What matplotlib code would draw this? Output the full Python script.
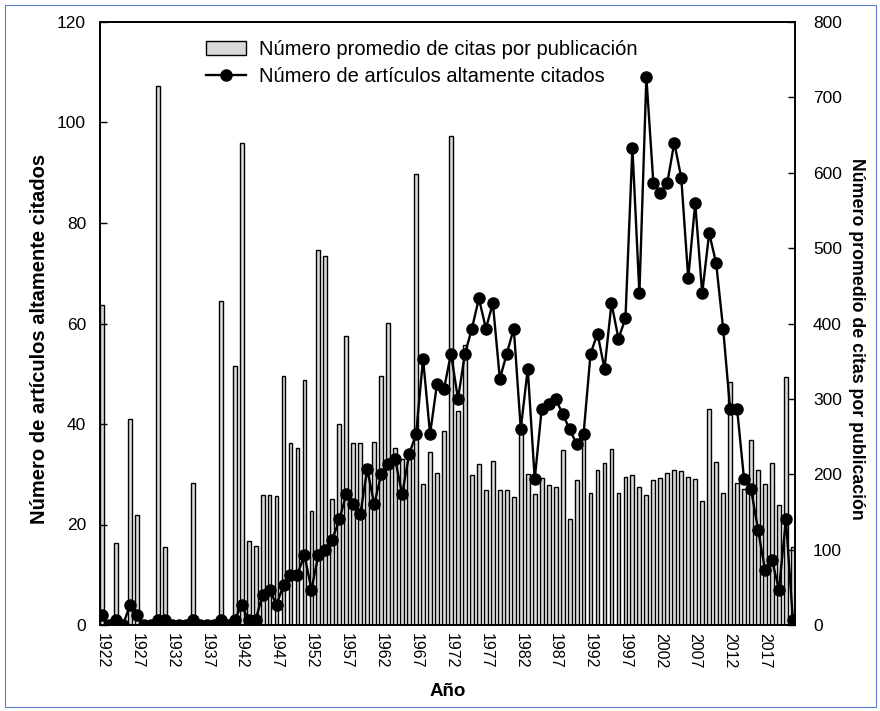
import matplotlib
matplotlib.use("Agg")
import matplotlib.pyplot as plt
from matplotlib.patches import Rectangle
from matplotlib.lines import Line2D

plt.rcParams['font.family'] = ['Liberation Sans', 'DejaVu Sans']

years = list(range(1922, 2022))

# Número promedio de citas por publicación (right axis, bars)
avg_citations = [
    424, 0, 109, 0, 273, 146, 0, 0, 715, 104,      # 1922-1931
    0, 0, 0, 189, 0, 0, 0, 430, 0, 344,            # 1932-1941
    640, 112, 105, 172, 172, 171, 331, 241, 235, 325,  # 1942-1951
    151, 497, 490, 167, 267, 384, 242, 242, 200, 243,  # 1952-1961
    331, 401, 235, 220, 222, 599, 187, 229, 201, 258,  # 1962-1971
    649, 284, 372, 199, 213, 179, 217, 179, 179, 170,  # 1972-1981
    255, 200, 174, 195, 186, 183, 232, 141, 192, 253,  # 1982-1991
    175, 206, 215, 234, 175, 196, 199, 183, 172, 192,  # 1992-2001
    195, 202, 205, 204, 196, 194, 165, 286, 216, 175,  # 2002-2011
    322, 189, 181, 245, 205, 187, 215, 159, 329, 104,  # 2012-2021
]

# Número de artículos altamente citados (left axis, line)
highly_cited = [
    2, 0, 1, 0, 4, 2, 0, 0, 1, 1,            # 1922-1931
    0, 0, 0, 1, 0, 0, 0, 1, 0, 1,            # 1932-1941
    4, 1, 1, 6, 7, 4, 8, 10, 10, 14,         # 1942-1951
    7, 14, 15, 17, 21, 26, 24, 22, 31, 24,   # 1952-1961
    30, 32, 33, 26, 34, 38, 53, 38, 48, 47,  # 1962-1971
    54, 45, 54, 59, 65, 59, 64, 49, 54, 59,  # 1972-1981
    39, 51, 29, 43, 44, 45, 42, 39, 36, 38,  # 1982-1991
    54, 58, 51, 64, 57, 61, 95, 66, 109, 88, # 1992-2001
    86, 88, 96, 89, 69, 84, 66, 78, 72, 59,  # 2002-2011
    43, 43, 29, 27, 19, 11, 13, 7, 21, 1,    # 2012-2021
]

xtick_years = list(range(1922, 2018, 5))
left_ticks = [0, 20, 40, 60, 80, 100, 120]
right_ticks = [0, 100, 200, 300, 400, 500, 600, 700, 800]

label_bars = "Número promedio de citas por publicación"
label_line = "Número de artículos altamente citados"

fig = plt.figure(figsize=(8.8, 7.11), dpi=100)
ax = fig.add_axes([100/880, 1 - 625/711, 695/880, 603/711])
ax2 = ax.twinx()

bar_fill = '#d9d9d9'
ax2.bar(years, avg_citations, width=0.55, color=bar_fill, edgecolor='black', linewidth=1.0)
ax.plot(years, highly_cited, color='black', linewidth=1.7, marker='o',
        markersize=8, markerfacecolor='black', markeredgecolor='black')

ax.set_zorder(ax2.get_zorder() + 1)
ax.patch.set_visible(False)

ax.set_xlim(1921.7, 2021.3)
ax.set_ylim(0, 120)
ax2.set_ylim(0, 800)

ax.set_yticks(left_ticks)
ax2.set_yticks(right_ticks)
ax.set_xticks(xtick_years)
ax.set_xticklabels([str(y) for y in xtick_years], rotation=-90, fontsize=11.5)
ax.tick_params(axis='y', direction='in', length=5, labelsize=12.5, width=1, pad=10)
ax2.tick_params(axis='y', direction='in', length=5, labelsize=12.5, width=1, pad=13)
ax.tick_params(axis='x', direction='in', length=0, pad=6)

for a in (ax, ax2):
    for s in a.spines.values():
        s.set_linewidth(1.2)

ax.set_xlabel("Año", fontsize=13.5, fontweight='bold', labelpad=10)
ax.set_ylabel(label_line, fontsize=14.5, fontweight='bold')
ax2.set_ylabel(label_bars, fontsize=12.8, fontweight='bold', rotation=270)
ax.yaxis.set_label_coords(-51/695, 0.474)
ax2.yaxis.set_label_coords(1 + 70/695, 0.474)

handles = [
    Rectangle((0, 0), 1, 1, facecolor=bar_fill, edgecolor='black', linewidth=1.0),
    Line2D([0], [0], color='black', linewidth=1.7, marker='o', markersize=8),
]
ax.legend(handles, [label_bars, label_line], loc='upper left',
          bbox_to_anchor=(0.126, 1.0), frameon=False, fontsize=14.5,
          handlelength=2.0, handletextpad=0.65, labelspacing=0.4)

# thin blue outer frame
fig.patches.append(Rectangle((5/880, 4/711), 871/880, 702/711, transform=fig.transFigure,
                             fill=False, edgecolor='#5b7fd0', linewidth=0.8))

fig.savefig("out.png", dpi=100)
